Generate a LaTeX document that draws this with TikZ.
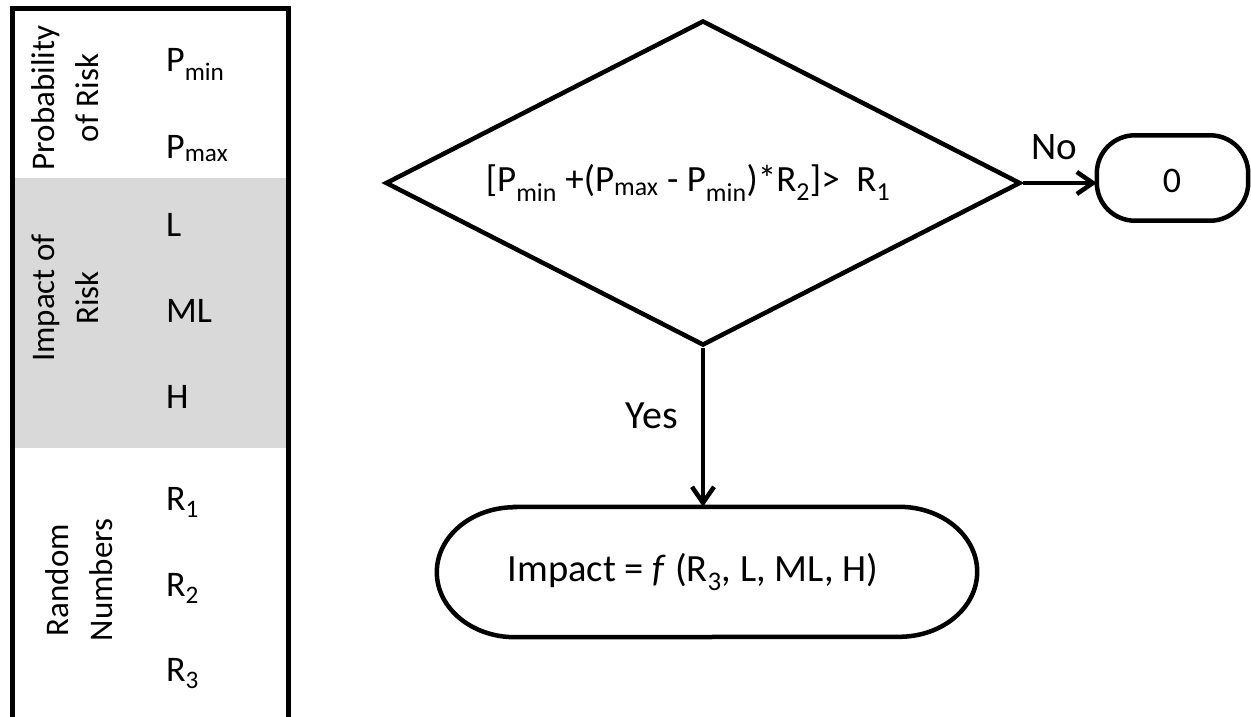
\documentclass[tikz,border=0pt]{standalone}
\usepackage{fontspec}
\setmainfont{Carlito}
\usetikzlibrary{shapes.geometric,arrows.meta}
\newcommand{\lowsub}[1]{\textsubscript{#1}}
\definecolor{bandgray}{HTML}{D9D9D9}

\begin{document}
\begin{tikzpicture}[x=1pt,y=-1pt,
  txt/.style={font=\fontsize{36}{43}\selectfont, inner sep=0pt},
  entry/.style={txt, anchor=base west},
  sidelabel/.style={inner sep=0pt, font=\fontsize{33}{44}\selectfont, rotate=90, align=center},
  flow/.style={line width=4.5pt, -{Straight Barb[length=16pt,width=22pt,line width=4.5pt]}},
  decision/.style={diamond, draw, line width=4.5pt, minimum width=635pt,
    minimum height=325pt, aspect=1.94, inner sep=0pt},
  holder/.style={inner sep=0pt},
  outline/.style={line width=4.5pt}
]
\useasboundingbox (0,0) rectangle (1251,717);

% legend column
\fill[bandgray] (14,178) rectangle (286,448);
\draw[line width=5pt] (12,9) rectangle (288,722);

\node[sidelabel] (probl) at (65,98) {Probability\\of Risk};
\node[sidelabel] (impl) at (65,298) {Impact of\\Risk};
\node[sidelabel] (randl) at (79,580) {Random\\Numbers};

\node[entry] (pmin) at (166,72) {P\lowsub{min}};
\node[entry] (pmax) at (166,158) {P\lowsub{max}};
\node[entry] (el) at (166,236) {L};
\node[entry] (eml) at (166,322) {ML};
\node[entry] (eh) at (166,408) {H};
\node[entry] (r1) at (166,510) {R\lowsub{1}};
\node[entry] (r2) at (166,596) {R\lowsub{2}};
\node[entry] (r3) at (166,681) {R\lowsub{3}};

% flow chart
\node[decision] (dec) at (703,183) {};
\node[txt, font=\fontsize{37}{44}\selectfont] (cond) at (688,183)
  {[P\lowsub{min} +(P\lowsub{max} - P\lowsub{min})*R\lowsub{2}]>~ R\lowsub{1}};

\node[holder, minimum width=151pt, minimum height=85pt] (zero) at (1172.5,178) {};
\draw[outline, rounded corners=38pt] (zero.north west) rectangle (zero.south east);
\node[txt] (zerot) at (1172,181) {0};

\node[holder, minimum width=540pt, minimum height=130pt] (impact) at (707,572) {};
\draw[outline] ([xshift=78pt]impact.north west) -- ([xshift=-78pt]impact.north east)
  arc[start angle=90, end angle=-90, x radius=78pt, y radius=65pt]
  -- ([xshift=78pt]impact.south west)
  arc[start angle=270, end angle=90, x radius=78pt, y radius=65pt] -- cycle;
\node[txt, font=\fontsize{38.5}{46}\selectfont] (impt) at (693,572)
  {Impact = \textit{f} (R\lowsub{3}, L, ML, H)};

\draw[flow] (dec.east) -- (dec.east -| zero.west);
\draw[flow] (dec.south) -- (dec.south |- impact.north);

\node[txt, font=\fontsize{39}{46}\selectfont] (nolab) at (1054,147) {No};
\node[txt, font=\fontsize{40}{48}\selectfont] (yeslab) at (652,416) {Yes};
\end{tikzpicture}
\end{document}
